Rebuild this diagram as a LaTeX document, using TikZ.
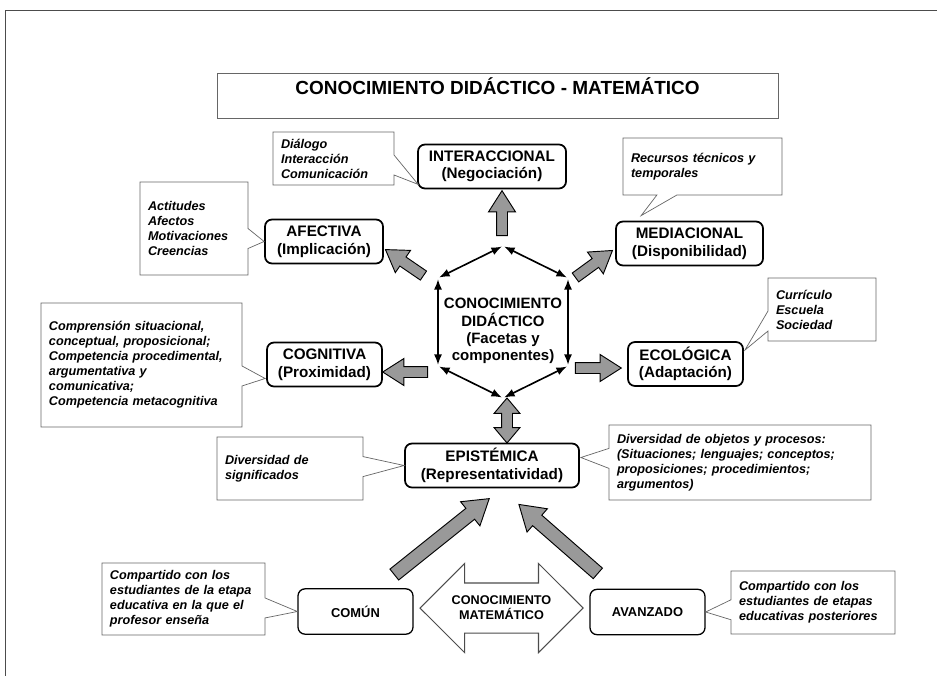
\documentclass[tikz,border=0pt]{standalone}
\usepackage{fontspec}
\setmainfont{Liberation Sans}
\usetikzlibrary{arrows.meta,calc,shapes.arrows,shapes.callouts}

\begin{document}
\begin{tikzpicture}
    [x=0.03cm, y=-0.03cm,
    facet/.style={draw, rounded corners=6pt, line width=1.5pt, align=center, inner sep=0pt,
        minimum height=1.32cm, font=\fontsize{13}{15}\selectfont\bfseries},
    kindbox/.style={draw, rounded corners=6pt, line width=1.1pt, inner sep=0pt,
        minimum width=3.45cm, minimum height=1.36cm, font=\fontsize{11}{13}\selectfont\bfseries},
    note/.style={rectangle callout, draw=black!60, line width=0.6pt, fill=white, align=left,
        inner xsep=0.24cm, inner ysep=0pt, callout pointer width=0.6cm,
        font=\fontsize{10.8}{12.8}\selectfont\bfseries\itshape},
    fatarrow/.style={single arrow, draw, line width=0.8pt, fill=black!40, inner xsep=0pt,
        single arrow head extend=0.24cm, single arrow tip angle=65},
    hexedge/.style={{Latex[length=9pt,width=7pt]}-{Latex[length=9pt,width=7pt]},
        line width=1.4pt, shorten <=1pt, shorten >=1pt}]

    \useasboundingbox (0,0) rectangle (937,676);
    \draw[black!70, line width=0.8pt] (937,10) -- (5,10) -- (5,676);

    \node[draw=black!60, line width=0.6pt, minimum width=16.83cm, minimum height=1.35cm,
        text height=0.41cm, text depth=0.45cm, font=\fontsize{16.2}{18}\selectfont\bfseries]
        (title) at (497.5,95.5) {CONOCIMIENTO DIDÁCTICO - MATEMÁTICO};

    % facetas
    \node[facet, minimum width=4.44cm] (inter) at (492,166.5) {INTERACCIONAL\\(Negociación)};
    \node[facet, minimum width=3.54cm] (afec) at (324,241.5) {AFECTIVA\\(Implicación)};
    \node[facet, minimum width=4.41cm] (medi) at (689.5,243.5) {MEDIACIONAL\\(Disponibilidad)};
    \node[facet, minimum width=3.45cm] (cogn) at (324.5,364.5) {COGNITIVA\\(Proximidad)};
    \node[facet, minimum width=3.45cm] (ecol) at (685.5,364) {ECOLÓGICA\\(Adaptación)};
    \node[facet, minimum width=5.22cm] (epis) at (492,465.5) {EPISTÉMICA\\(Representatividad)};
    \node[kindbox] (comun) at (355.5,611.5) {COMÚN};
    \node[kindbox] (avanz) at (647.5,612) {AVANZADO};

    % hexagono central
    \node[align=center, font=\fontsize{12.8}{14.8}\selectfont\bfseries] (core) at (503,331)
        {CONOCIMIENTO\\DIDÁCTICO\\(Facetas y\\componentes)};
    \coordinate (h1) at (503,246);
    \coordinate (h2) at (568,278);
    \coordinate (h3) at (568,366);
    \coordinate (h4) at (503,398);
    \coordinate (h5) at (438,366);
    \coordinate (h6) at (438,278);
    \foreach \a/\b in {h1/h2, h2/h3, h3/h4, h4/h5, h5/h6, h6/h1}
        \draw[hexedge] (\a) -- (\b);

    % flechas grises
    \coordinate (iTail) at (502,240);  \coordinate (iTip) at (502,195);
    \coordinate (aTail) at (427,278);  \coordinate (aTip) at (389,252);
    \coordinate (mTail) at (572,280);  \coordinate (mTip) at (609,253);
    \coordinate (cTail) at (432,372);  \coordinate (cTip) at (387,372);
    \coordinate (eTail) at (571,368);  \coordinate (eTip) at (617,368);
    \coordinate (uTail) at (390,578);  \coordinate (uTip) at (485,502);
    \coordinate (vTail) at (602,577);  \coordinate (vTip) at (523,508);
    \foreach \a/\b/\w/\s in {iTail/iTip/0.78/0.15, aTail/aTip/0.78/0.15, mTail/mTip/0.78/0.15,
                             cTail/cTip/0.78/0.15, eTail/eTip/0.78/0.15,
                             uTail/uTip/0.9/0.195, vTail/vTip/0.9/0.195}
        \path let \p1=($(\b)-(\a)$), \n1={atan2(\y1,\x1)}, \n2={veclen(\x1,\y1)} in
            node[fatarrow, rotate=\n1, minimum height=\n2, minimum width=\w cm, inner ysep=\s cm,
                single arrow head extend={(\w cm-2*\s cm)/2}]
            (arrow-\a) at ($(\a)!0.5!(\b)$) {};

    \node[double arrow, draw, line width=0.8pt, fill=black!40, inner xsep=0pt, inner ysep=0.15cm,
        rotate=90, minimum height=1.35cm, minimum width=0.75cm, double arrow head extend=0.225cm,
        double arrow tip angle=80] (link) at (507,420.5) {};

    % conocimiento matematico
    \node[double arrow, draw=black!70, line width=0.9pt, fill=white, inner xsep=0pt,
        inner ysep=0.735cm, minimum height=4.89cm, minimum width=2.64cm,
        double arrow head extend=0.585cm, double arrow tip angle=90] (matarrow) at (501.5,608) {};
    \node[align=center, font=\fontsize{10.8}{12.8}\selectfont\bfseries] (mattext) at (501.5,608)
        {CONOCIMIENTO\\MATEMÁTICO};

    % notas
    \node[note, text width=3.15cm, minimum height=1.59cm,
        callout absolute pointer={($(inter.south west)+(1,-5)$)}]
        (nInter) at (333.5,158.5) {Diálogo\\Interacción\\Comunicación};
    \node[note, text width=2.76cm, minimum height=2.79cm,
        callout absolute pointer={(afec.west)}]
        (nAfec) at (194,228.5) {Actitudes\\Afectos\\Motivaciones\\Creencias};
    \node[note, text width=4.29cm, minimum height=1.71cm,
        callout absolute pointer={($(medi.north west)+(26,-5)$)}]
        (nMedi) at (702.5,166.5) {Recursos técnicos y\\temporales};
    \node[note, text width=2.76cm, minimum height=1.89cm,
        callout absolute pointer={($(ecol.north east)+(1,9)$)}]
        (nEcol) at (822,309.5) {Currículo\\Escuela\\Sociedad};
    \node[note, text width=5.55cm, minimum height=3.72cm,
        callout absolute pointer={($(cogn.west)+(-1,14)$)}]
        (nCogn) at (141.5,365) {Comprensión situacional,\\conceptual, proposicional;\\Competencia procedimental,\\argumentativa y\\comunicativa;\\Competencia metacognitiva};
    \node[note, text width=3.9cm, minimum height=1.89cm,
        callout absolute pointer={(epis.west)}]
        (nEpisL) at (290,468.5) {Diversidad de\\significados};
    \node[note, text width=7.38cm, minimum height=2.25cm,
        callout absolute pointer={($(epis.east)+(1,-8)$)}]
        (nEpisR) at (740,462.5) {Diversidad de objetos y procesos:\\(Situaciones; lenguajes; conceptos;\\proposiciones; procedimientos;\\argumentos)};
    \node[note, text width=4.41cm, minimum height=2.16cm,
        callout absolute pointer={(comun.west)}]
        (nComun) at (183.5,599) {Compartido con los\\estudiantes de la etapa\\educativa en la que el\\profesor enseña};
    \node[note, text width=4.44cm, minimum height=1.89cm,
        callout absolute pointer={(avanz.east)}]
        (nAvanz) at (813,602.5) {Compartido con los\\estudiantes de etapas\\educativas posteriores};
\end{tikzpicture}
\end{document}
